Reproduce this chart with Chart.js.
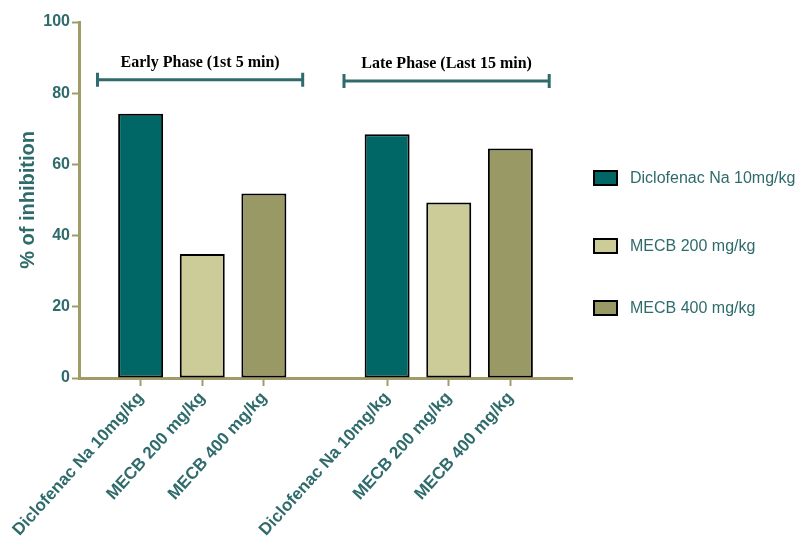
<!DOCTYPE html>
<html>
<head>
<meta charset="utf-8">
<script src="https://cdn.jsdelivr.net/npm/chart.js@4"></script>
<style>
  body { margin: 0; background: #fff; }
  #wrap { width: 809px; height: 548px; }
</style>
</head>
<body>
<div id="wrap"><canvas id="chart"></canvas></div>
<script>
// dados do gráfico
const categories = ['', 'Diclofenac Na 10mg/kg', 'MECB 200 mg/kg', 'MECB 400 mg/kg', '',
                    'Diclofenac Na 10mg/kg', 'MECB 200 mg/kg', 'MECB 400 mg/kg', ''];
const treatments = ['Diclofenac Na 10mg/kg', 'MECB 200 mg/kg', 'MECB 400 mg/kg'];
const earlyPhase = [74.2, 34.8, 51.8];
const latePhase  = [68.5, 49.3, 64.5];
const phaseLabels = ['Early Phase (1st 5 min)', 'Late Phase (Last 15 min)'];
const yTicks = [0, 20, 40, 60, 80, 100];

const corBarras = ['#006666', '#cccc99', '#999966'];
const teal = '#2f6b6b';
const olive = '#a09c6a';
const fonte = '"Liberation Sans", Arial, sans-serif';

// um dataset por tratamento, cada um só nas suas colunas
const datasets = treatments.map((t, i) => {
  const data = categories.map(() => null);
  data[1 + i] = earlyPhase[i];
  data[5 + i] = latePhase[i];
  return {
    label: t,
    data: data,
    backgroundColor: corBarras[i],
    borderColor: '#000',
    borderWidth: 2,
    borderSkipped: false,
    skipNull: true,
    categoryPercentage: 1,
    barPercentage: 0.73
  };
});

// chaves das fases
const fasesPlugin = {
  id: 'fases',
  afterDatasetsDraw(chart) {
    const ctx = chart.ctx;
    const x = chart.scales.x, y = chart.scales.y;
    const passo = x.getPixelForValue(2) - x.getPixelForValue(1);
    const grupos = [[1, 3, 83.8], [5, 7, 83.4]];
    grupos.forEach((g, k) => {
      const x1 = x.getPixelForValue(g[0]) - 0.7 * passo;
      const x2 = x.getPixelForValue(g[1]) + 0.63 * passo;
      const yy = y.getPixelForValue(g[2]);
      ctx.save();
      ctx.strokeStyle = teal;
      ctx.lineWidth = 3;
      ctx.beginPath();
      ctx.moveTo(x1, yy); ctx.lineTo(x2, yy);
      ctx.moveTo(x1, yy - 7); ctx.lineTo(x1, yy + 7);
      ctx.moveTo(x2, yy - 7); ctx.lineTo(x2, yy + 7);
      ctx.stroke();
      ctx.fillStyle = '#000';
      ctx.font = 'bold 16px "Liberation Serif", serif';
      ctx.textAlign = 'center';
      ctx.textBaseline = 'bottom';
      ctx.fillText(phaseLabels[k], (x1 + x2) / 2, yy - 9);
      ctx.restore();
    });
  }
};

// legenda à direita
const legendaPlugin = {
  id: 'legenda',
  afterDraw(chart) {
    const ctx = chart.ctx;
    const yPos = [178, 246, 308];
    chart.data.datasets.forEach((ds, i) => {
      ctx.save();
      ctx.fillStyle = ds.backgroundColor;
      ctx.fillRect(594, yPos[i] - 7, 23, 14);
      ctx.strokeStyle = '#000';
      ctx.lineWidth = 2;
      ctx.strokeRect(594, yPos[i] - 7, 23, 14);
      ctx.fillStyle = teal;
      ctx.font = '16px ' + fonte;
      ctx.textAlign = 'left';
      ctx.textBaseline = 'middle';
      ctx.fillText(ds.label, 630, yPos[i] + 1);
      ctx.restore();
    });
  }
};

const ctx = document.getElementById('chart').getContext('2d');
new Chart(ctx, {
  type: 'bar',
  data: { labels: categories, datasets: datasets },
  plugins: [fasesPlugin, legendaPlugin],
  options: {
    responsive: true,
    maintainAspectRatio: false,
    animation: false,
    layout: { padding: { top: 22, left: 0, right: 237, bottom: 0 } },
    plugins: {
      tooltip: { enabled: false },
      legend: { display: false }
    },
    scales: {
      x: {
        type: 'category',
        offset: false,
        afterFit: (s) => { s.height = 170; },
        grid: {
          offset: false,
          drawOnChartArea: false,
          drawTicks: true,
          tickLength: 8,
          tickWidth: 2,
          tickColor: (c) => categories[c.index] ? olive : 'rgba(0,0,0,0)'
        },
        border: { color: olive, width: 3 },
        ticks: {
          autoSkip: false,
          minRotation: 48,
          maxRotation: 48,
          padding: 2,
          color: teal,
          font: { family: fonte, size: 17, weight: 'bold' }
        }
      },
      y: {
        min: 0,
        max: 100,
        afterFit: (s) => { s.width = 79; },
        afterBuildTicks: (s) => { s.ticks = yTicks.map(v => ({ value: v })); },
        grid: {
          drawOnChartArea: false,
          tickLength: 7,
          tickWidth: 2,
          tickColor: olive
        },
        border: { color: olive, width: 3 },
        ticks: {
          padding: 2,
          color: teal,
          font: { family: fonte, size: 16, weight: 'bold' }
        },
        title: {
          display: true,
          text: '% of inhibition',
          color: teal,
          padding: { top: 16, bottom: 0 },
          font: { family: fonte, size: 20, weight: 'bold' }
        }
      }
    }
  }
});
</script>
</body>
</html>
